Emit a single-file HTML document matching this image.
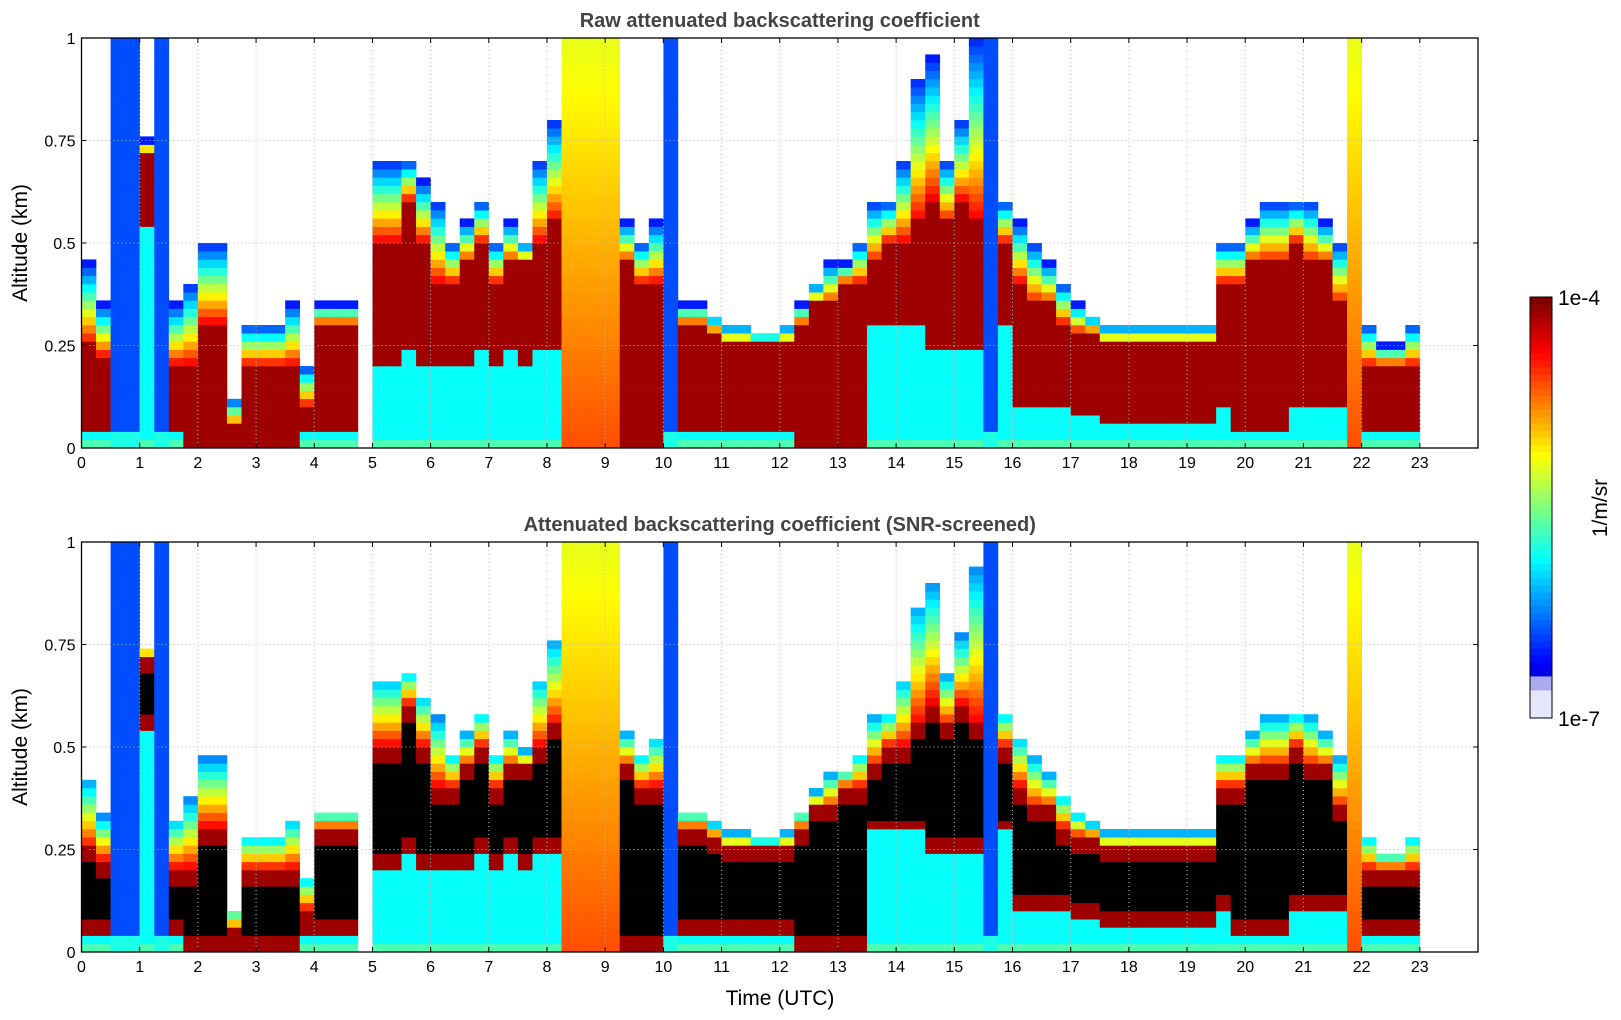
<!DOCTYPE html>
<html><head><meta charset="utf-8"><style>
body{margin:0;background:#fff;}
svg{display:block;font-family:"Liberation Sans","DejaVu Sans",sans-serif;}
</style></head><body>
<svg id="c" width="1621" height="1020" viewBox="0 0 1621 1020"></svg>
<script>
// time bins (hours, start of 0.25 h bin)
const times=[];for(let i=0;i<92;i++)times.push(i*0.25);
// top of detected signal (km)
const topKm=[.45,.35,1,1,.75,1,.35,.4,.5,.5,.12,.3,.3,.3,.35,.2,.35,.35,.35,0,.7,.7,.7,.65,.6,.5,.55,.6,.5,.55,.5,.7,.8,1,1,1,1,.55,.5,.55,1,.35,.35,.32,.3,.3,.28,.28,.3,.35,.4,.45,.45,.5,.6,.6,.7,.9,.95,.7,.8,1,1,.6,.55,.5,.45,.4,.35,.32,.3,.3,.3,.3,.3,.3,.3,.3,.5,.5,.55,.6,.6,.6,.6,.55,.5,1,.3,.25,.25,.3];
// bottom of strong aerosol layer (km)
const layerLo=[.05,.05,0,0,.55,0,.05,0,0,0,0,0,0,0,0,.05,.05,.05,.05,0,.2,.2,.25,.2,.2,.2,.2,.25,.2,.25,.2,.25,.25,0,0,0,0,0,0,0,0,.05,.05,.05,.05,.05,.05,.05,.05,0,0,0,0,0,.3,.3,.3,.3,.25,.25,.25,.25,0,.3,.1,.1,.1,.1,.08,.08,.07,.07,.07,.07,.07,.07,.07,.07,.1,.05,.05,.05,.05,.1,.1,.1,.1,0,.05,.05,.05,.05];
// top of strong aerosol layer (km)
const layerHi=[.25,.22,0,0,.72,0,.2,.2,.3,.3,.05,.2,.2,.2,.2,.1,.3,.3,.3,0,.5,.5,.6,.5,.4,.4,.45,.5,.4,.45,.45,.5,.55,0,0,0,0,.45,.4,.4,0,.3,.3,.28,.25,.25,.25,.25,.25,.3,.35,.35,.4,.4,.45,.5,.5,.55,.6,.55,.6,.55,0,.5,.4,.35,.35,.3,.28,.28,.25,.25,.25,.25,.25,.25,.25,.25,.4,.4,.45,.45,.45,.5,.45,.45,.35,0,.2,.2,.2,.2];
// full-column event type: 0 none, 1 blue (cloud/rain), 2 yellow/orange
const fullType=[0,0,1,1,0,1,0,0,0,0,0,0,0,0,0,0,0,0,0,0,0,0,0,0,0,0,0,0,0,0,0,0,0,2,2,2,2,0,0,0,1,0,0,0,0,0,0,0,0,0,0,0,0,0,0,0,0,0,0,0,0,0,1,0,0,0,0,0,0,0,0,0,0,0,0,0,0,0,0,0,0,0,0,0,0,0,0,2,0,0,0,0];
const xTicks=[];for(let h=0;h<=24;h++)xTicks.push(h);
const yTicks=[0,0.25,0.5,0.75,1];
const yTickLabels=["0","0.25","0.5","0.75","1"];

const NS="http://www.w3.org/2000/svg";
const svg=document.getElementById('c');
function el(tag,attrs,parent){const e=document.createElementNS(NS,tag);for(const k in attrs)e.setAttribute(k,attrs[k]);(parent||svg).appendChild(e);return e;}
const X0=81.5,X1=1478;
function xs(h){return X0+(X1-X0)*h/24;}
function jet(t){t=Math.max(0,Math.min(1,t));
 const r=Math.min(1,Math.max(0,1.5-Math.abs(4*t-3)));
 const g=Math.min(1,Math.max(0,1.5-Math.abs(4*t-2)));
 const b=Math.min(1,Math.max(0,1.5-Math.abs(4*t-1)));
 return `rgb(${Math.round(r*255)},${Math.round(g*255)},${Math.round(b*255)})`;}
function valueAt(i,z,screened){
 const f=fullType[i];
 if(f===1){ if(z<0.05) return 0.4; return 0.2;}
 if(f===2){ return 0.8-0.2*z;}
 const top=topKm[i],lo=layerLo[i],hi=layerHi[i];
 if(z>top) return null;
 if(hi>lo && z>=lo && z<=hi){
   if(screened && z>lo+0.03 && z<hi-0.03) return -1;
   return 0.97;}
 if(z<lo) return z<0.03?0.45:0.38;
 const span=Math.max(0.01,top-hi);
 const f2=(z-hi)/span;
 if(screened && f2>0.85) return null;
 return 0.9-0.75*f2;
}
function plot(y0,y1,title,screened,name){
 const g=el('g',{});
 const ys=v=>y1-(y1-y0)*v;
 el('text',{x:(X0+X1)/2,y:y0-11,'text-anchor':'middle','font-size':20,'font-weight':'bold',fill:'#444'},g).textContent=title;
 const cells=50;
 for(let i=0;i<times.length;i++){
  const xa=xs(times[i]),xb=xs(times[i]+0.25);
  for(let k=0;k<cells;k++){
   const z=(k+0.5)/cells;
   const v=valueAt(i,z,screened);
   if(v===null)continue;
   const r=el('rect',{x:xa,y:ys((k+1)/cells),width:xb-xa+0.3,height:(y1-y0)/cells+0.3,fill:v<0?'#000':jet(v)},g);
   
   
  }
 }
 for(const h of xTicks){if(h===0||h===24)continue;el('line',{x1:xs(h),x2:xs(h),y1:y0,y2:y1,stroke:'#bbb','stroke-dasharray':'1,3'},g);}
 for(const v of yTicks){if(v===0||v===1)continue;el('line',{x1:X0,x2:X1,y1:ys(v),y2:ys(v),stroke:'#bbb','stroke-dasharray':'1,3'},g);}
 el('rect',{x:X0,y:y0,width:X1-X0,height:y1-y0,fill:'none',stroke:'#000','stroke-width':1.3},g);
 xTicks.forEach(h=>{
  el('line',{x1:xs(h),x2:xs(h),y1:y1,y2:y1-5,stroke:'#000'},g);
  el('line',{x1:xs(h),x2:xs(h),y1:y0,y2:y0+5,stroke:'#000'},g);
  if(h<24){const t=el('text',{x:xs(h),y:y1+20,'text-anchor':'middle','font-size':16},g);t.textContent=h;}
 });
 yTicks.forEach((v,j)=>{
  el('line',{x1:X0,x2:X0+5,y1:ys(v),y2:ys(v),stroke:'#000'},g);
  el('line',{x1:X1,x2:X1-5,y1:ys(v),y2:ys(v),stroke:'#000'},g);
  const t=el('text',{x:X0-6,y:ys(v)+6,'text-anchor':'end','font-size':16},g);t.textContent=yTickLabels[j];
  
 });
 const yl=el('text',{x:0,y:0,'text-anchor':'middle','font-size':21,transform:`translate(27,${(y0+y1)/2}) rotate(-90)`},g);
 yl.textContent='Altitude (km)';
}
plot(38,448,'Raw attenuated backscattering coefficient',false,'raw-backscatter-panel');
plot(542,952,'Attenuated backscattering coefficient (SNR-screened)',true,'screened-backscatter-panel');
const xl=el('text',{x:780,y:1005,'text-anchor':'middle','font-size':21});xl.textContent='Time (UTC)';

const cb=el('g',{});
const n=60;const CY0=297,CY1=718,CH=CY1-CY0;
for(let k=0;k<n;k++){const t=k/(n-1);let col;
 if(t<0.06) col='rgb(230,230,250)'; else if(t<0.1) col='rgb(170,170,240)'; else col=jet(0.1+0.9*(t-0.1)/0.9);
 el('rect',{x:1530,y:CY1-(k+1)*CH/n,width:22,height:CH/n+0.5,fill:col},cb);}
el('rect',{x:1530,y:CY0,width:22,height:CH,fill:'none',stroke:'#000'},cb);
const c1=el('text',{x:1558,y:305,'font-size':21},cb);c1.textContent='1e-4';
const c2=el('text',{x:1558,y:726,'font-size':21},cb);c2.textContent='1e-7';
const c3=el('text',{x:0,y:0,'text-anchor':'middle','font-size':21,transform:'translate(1607,508) rotate(-90)'},cb);c3.textContent='1/m/sr';
</script>
</body></html>
